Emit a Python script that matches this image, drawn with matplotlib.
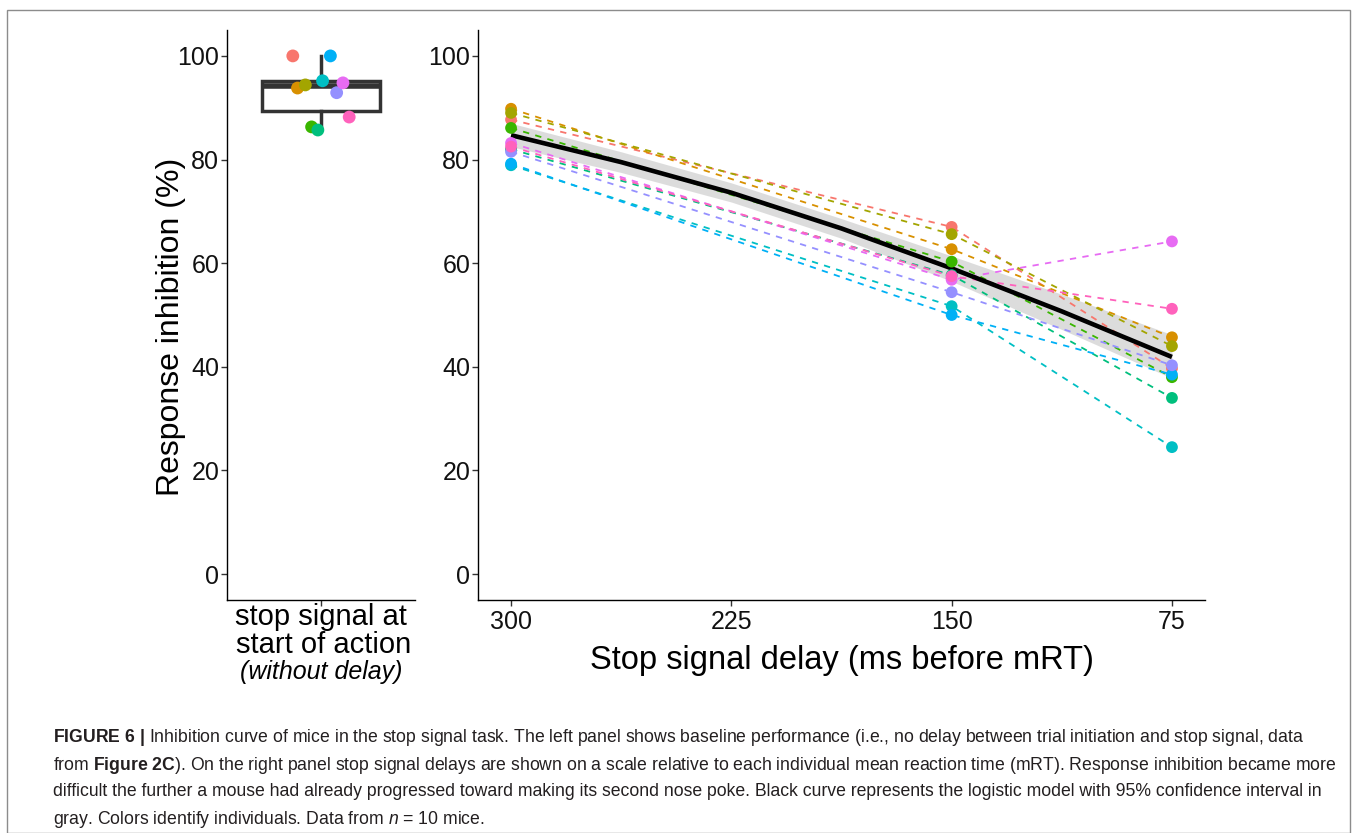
import numpy as np
import matplotlib
matplotlib.use("Agg")
import matplotlib.pyplot as plt
from matplotlib.patches import Rectangle

plt.rcParams['font.family'] = ['Liberation Sans', 'DejaVu Sans']
plt.rcParams['mathtext.fontset'] = 'custom'
plt.rcParams['mathtext.rm'] = 'Liberation Sans'
plt.rcParams['mathtext.bf'] = 'Liberation Sans:bold'
plt.rcParams['mathtext.it'] = 'Liberation Sans:italic'

# ggplot hue colours, one per mouse
colors = ['#F8766D', '#D89000', '#A3A500', '#39B600', '#00BF7D',
          '#00BFC4', '#00B0F6', '#9590FF', '#E76BF3', '#FF62BC']

# baseline (no delay) per mouse + jitter
baseline = [100.0, 93.8, 94.4, 86.3, 85.7, 95.2, 100.0, 92.9, 94.8, 88.2]
jitter = [-0.18, -0.15, -0.10, -0.06, -0.02, 0.01, 0.06, 0.10, 0.14, 0.18]

# stop signal delays (ms before mRT) and per-mouse inhibition
delays = [300, 150, 75]
inhib = [
    [87.7, 67.0, 39.7],   # red
    [89.8, 62.7, 45.7],   # orange
    [89.0, 65.6, 44.0],   # olive
    [86.1, 60.3, 38.0],   # green
    [82.0, 57.7, 34.0],   # teal green
    [78.9, 51.7, 24.5],   # cyan
    [79.2, 50.0, 38.5],   # blue
    [81.5, 54.4, 40.3],   # purple
    [83.2, 56.8, 64.2],   # magenta
    [82.5, 57.5, 51.2],   # pink
]

# logistic model and 95% CI
fit_x = [300, 262.5, 225, 187.5, 150, 112.5, 75]
fit_y = [84.7, 79.5, 73.6, 66.7, 59.0, 50.7, 41.9]
fit_lo = [82.5, 77.5, 71.8, 64.8, 56.5, 47.2, 37.8]
fit_hi = [87.0, 81.5, 75.5, 68.6, 61.4, 54.0, 46.2]

yticks = [0, 20, 40, 60, 80, 100]
xticks = [300, 225, 150, 75]

W, H = 1358, 833
fig = plt.figure(figsize=(W / 100, H / 100), dpi=100)

def px_axes(x0, y0, x1, y1):
    return fig.add_axes([x0 / W, 1 - y1 / H, (x1 - x0) / W, (y1 - y0) / H])

def style(ax):
    for s in ['top', 'right']:
        ax.spines[s].set_visible(False)
    for s in ['left', 'bottom']:
        ax.spines[s].set_linewidth(1.0)
        ax.spines[s].set_color('black')
    ax.tick_params(axis='both', length=4, width=1.0, color='#333333',
                   labelsize=18, labelcolor='#111111', pad=1.5)
    ax.tick_params(axis='x', pad=3)
    ax.set_ylim(-5, 105)
    ax.set_yticks(yticks)

# left panel
axl = px_axes(227, 30, 415, 600)
style(axl)
axl.set_xlim(0.4, 1.6)
axl.boxplot([baseline], positions=[1], widths=0.75, whis=1.5, showfliers=False,
            patch_artist=True,
            boxprops=dict(facecolor='white', edgecolor='#333333', linewidth=2.5),
            medianprops=dict(color='#333333', linewidth=4),
            whiskerprops=dict(color='#333333', linewidth=2.5),
            capprops=dict(linewidth=0))
axl.scatter(1 + np.array(jitter), baseline, c=colors, s=85, zorder=3,
            edgecolors='none')
axl.set_xticks([1])
axl.set_xticklabels([''])
axl.set_ylabel('Response inhibition (%)', fontsize=23)
axl.yaxis.set_label_coords(-0.22, 0.48)
fig.text(321 / W, 1 - 617 / H, 'stop signal at', ha='center', va='center',
         fontsize=21)
fig.text(324 / W, 1 - 645 / H, 'start of action', ha='center', va='center',
         fontsize=21)
fig.text(321 / W, 1 - 672 / H, '(without delay)', ha='center', va='center',
         fontsize=18, style='italic')

# right panel
axr = px_axes(478, 30, 1205, 600)
style(axr)
axr.set_xlim(311.25, 63.75)
axr.set_xticks(xticks)
axr.set_xticklabels([str(t) for t in xticks])
axr.fill_between(fit_x, fit_lo, fit_hi, color='#d9d9d9', alpha=0.9, lw=0,
                 zorder=1)
for c, vals in zip(colors, inhib):
    axr.plot(delays, vals, color=c, lw=1.3, dashes=(3.5, 3.5), zorder=2)
    axr.scatter(delays, vals, color=c, s=72, zorder=4, edgecolors='none')
axr.plot(fit_x, fit_y, color='black', lw=3.3, zorder=3,
         solid_capstyle='butt')
axr.set_xlabel('Stop signal delay (ms before mRT)', fontsize=23.5, labelpad=8)

# figure frame
fig.patches.append(Rectangle((7 / W, 0), (1350 - 7) / W, 1 - 10 / H,
                             transform=fig.transFigure, fill=False,
                             edgecolor='#8c8c8c', lw=1.0))

# caption
cap = [
    r"$\mathbf{FIGURE\ 6\ |}$ Inhibition curve of mice in the stop signal task. "
    "The left panel shows baseline performance (i.e., no delay between trial "
    "initiation and stop signal, data",
    r"from $\mathbf{Figure\ 2C}$). On the right panel stop signal delays are shown "
    "on a scale relative to each individual mean reaction time (mRT). Response "
    "inhibition became more",
    "difficult the further a mouse had already progressed toward making its "
    "second nose poke. Black curve represents the logistic model with 95% "
    "confidence interval in",
    r"gray. Colors identify individuals. Data from $\mathit{n}$ = 10 mice.",
]
cap_y = [737, 765, 792, 819]
for line, y in zip(cap, cap_y):
    fig.text(53 / W, 1 - y / H, line, fontsize=12.7, color='#231f20',
             ha='left', va='center')

fig.savefig('out.png', dpi=100)
